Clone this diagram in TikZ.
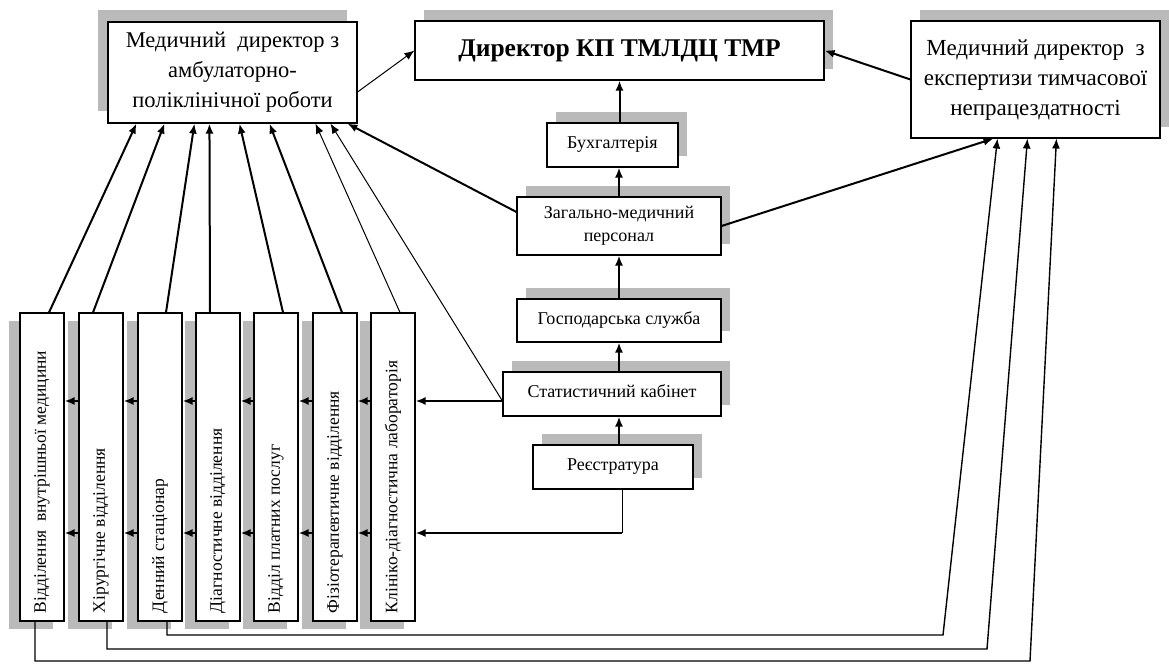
\documentclass[tikz,border=0pt]{standalone}
\usepackage{fontspec}
\setmainfont{Liberation Serif}
\usetikzlibrary{arrows.meta,shadows,calc}
\begin{document}
\begin{tikzpicture}[x=1pt,y=-1pt,
  box/.style={draw=black, line width=1.1pt, fill=white, inner sep=0pt, align=center},
  shL/.style={general shadow={shadow xshift=-10pt, shadow yshift=12pt, fill=black!27}},
  shR/.style={general shadow={shadow xshift=9pt, shadow yshift=11pt, fill=black!27}},
  shD/.style={general shadow={shadow xshift=-11pt, shadow yshift=-8pt, fill=black!27}},
  bigtxt/.style={font=\fontsize{22.5}{30}\selectfont},
  smalltxt/.style={font=\fontsize{18}{23}\selectfont},
  vbox/.style={box, shD, minimum width=44pt, minimum height=308pt, font=\fontsize{17.5}{20}\selectfont},
  tipA/.style={-{Latex[length=10pt,width=8pt]}},
  arrB/.style={tipA, line width=2pt},
  arrT/.style={tipA, line width=1pt},
  route/.style={line width=1.4pt}
]
\useasboundingbox (0,0) rectangle (1169,664);

% top boxes
\node[box, shL, bigtxt, minimum width=249pt, minimum height=101pt] (amb) at (232.5,72.5)
  {Медичний\ \ директор з\\амбулаторно-\\поліклінічної роботи};
\node[box, shR, font=\bfseries\fontsize{25.5}{30}\selectfont, minimum width=409pt, minimum height=59pt] (dir) at (619.5,50.5)
  {\raisebox{5pt}{Директор КП ТМЛДЦ ТМР}};
\node[box, shR, font=\fontsize{23}{30}\selectfont, minimum width=249pt, minimum height=117pt] (exp) at (1035.5,79.5)
  {\raisebox{7pt}{\begin{tabular}{@{}c@{}}Медичний директор\ \ з\\експертизи тимчасової\\непрацездатності\end{tabular}}};

% central column
\node[box, shR, smalltxt, minimum width=131pt, minimum height=44pt] (buh) at (612.5,145) {\raisebox{4pt}{Бухгалтерія}};
\node[box, shR, smalltxt, minimum width=204pt, minimum height=58pt] (zag) at (619,226) {Загально-медичний\\персонал};
\node[box, shR, smalltxt, minimum width=204pt, minimum height=43pt] (gosp) at (619,320.5) {\raisebox{4pt}{Господарська служба}};
\node[box, shR, smalltxt, minimum width=218pt, minimum height=44pt] (stat) at (612,394) {\raisebox{5pt}{Статистичний кабінет}};
\node[box, shR, smalltxt, minimum width=160pt, minimum height=44pt] (reg) at (613,467) {\raisebox{4pt}{Реєстратура}};

% vertical department boxes
\node[vbox] (v1) at (42,467) {\rotatebox{90}{\makebox[292pt][l]{Відділення\ \ внутрішньої медицини}}};
\node[vbox] (v2) at (101,467) {\rotatebox{90}{\makebox[292pt][l]{Хірургічне відділення}}};
\node[vbox] (v3) at (160,467) {\rotatebox{90}{\makebox[292pt][l]{Денний стаціонар}}};
\node[vbox] (v4) at (218,467) {\rotatebox{90}{\makebox[292pt][l]{Діагностичне відділення}}};
\node[vbox] (v5) at (276,467) {\rotatebox{90}{\makebox[292pt][l]{Відділ платних послуг}}};
\node[vbox] (v6) at (335,467) {\rotatebox{90}{\makebox[292pt][l]{Фізіотерапевтичне відділення}}};
\node[vbox] (v7) at (393,467) {\rotatebox{90}{\makebox[292pt][l]{Клініко-діагностична лабораторія}}};

\coordinate (yA) at (0,401);
\coordinate (yB) at (0,533);
\coordinate (r1) at (622,533);

% central column arrows
\draw[arrB] (buh.north -| dir.south) -- (dir.south);
\draw[arrB] (zag.north) -- (buh.south -| zag.north);
\draw[arrB] (gosp.north) -- (zag.south);
\draw[arrB] (stat.north -| gosp.north) -- (gosp.south);
\draw[arrB] (reg.north -| gosp.north) -- (stat.south -| gosp.north);

% to director
\draw[arrT] ($(amb.east)+(0,19.5)$) -- (dir.west);
\draw[arrB] (exp.west) -- (dir.east);

% horizontal arrows between departments
\foreach \a/\b in {v2/v1, v3/v2, v4/v3, v5/v4, v6/v5, v7/v6} {
  \draw[arrB] (\a.west |- yA) -- (\b.east |- yA);
  \draw[arrB] (\a.west |- yB) -- (\b.east |- yB);
}
\draw[arrB] (stat.west |- yA) -- (v7.east |- yA);
\draw[line width=1pt] (reg.south -| r1) -- (r1);
\draw[arrB] (r1) -- (v7.east |- r1);

% arrows to the ambulatory director
\draw[arrB] ($(v1.north)+(7,0)$) -- ($(amb.south west)+(29,0)$);
\draw[arrB] ($(v2.north)+(-8,0)$) -- ($(amb.south west)+(57,0)$);
\draw[arrB] ($(v3.north)+(6,0)$) -- ($(amb.south west)+(87,0)$);
\draw[arrB] ($(v4.north)+(-8,0)$) -- ($(amb.south west)+(102,0)$);
\draw[arrB] ($(v5.north)+(7,0)$) -- ($(amb.south west)+(132,0)$);
\draw[arrB] ($(v6.north)+(7,0)$) -- ($(amb.south west)+(162,0)$);
\draw[arrT] ($(v7.north)+(7,0)$) -- ($(amb.south west)+(208,0)$);
\draw[arrT] (stat.west |- yA) -- ($(amb.south west)+(223,0)$);
\draw[arrB] ($(zag.west)+(0,-14)$) -- ($(amb.south west)+(240,0)$);

% arrows to the expertise director
\draw[arrB] (zag.east) -- ($(exp.south west)+(83,0)$);
\draw[route, tipA] ($(v1.south)+(-7,0)$) |- (1030,661) -- ($(exp.south west)+(146,0)$);
\draw[route, tipA] ($(v2.south)+(6,0)$) |- (987,649) -- ($(exp.south west)+(117,0)$);
\draw[route, tipA] ($(v3.south)+(7,0)$) |- (943,635) -- ($(exp.south west)+(87,0)$);
\end{tikzpicture}
\end{document}
